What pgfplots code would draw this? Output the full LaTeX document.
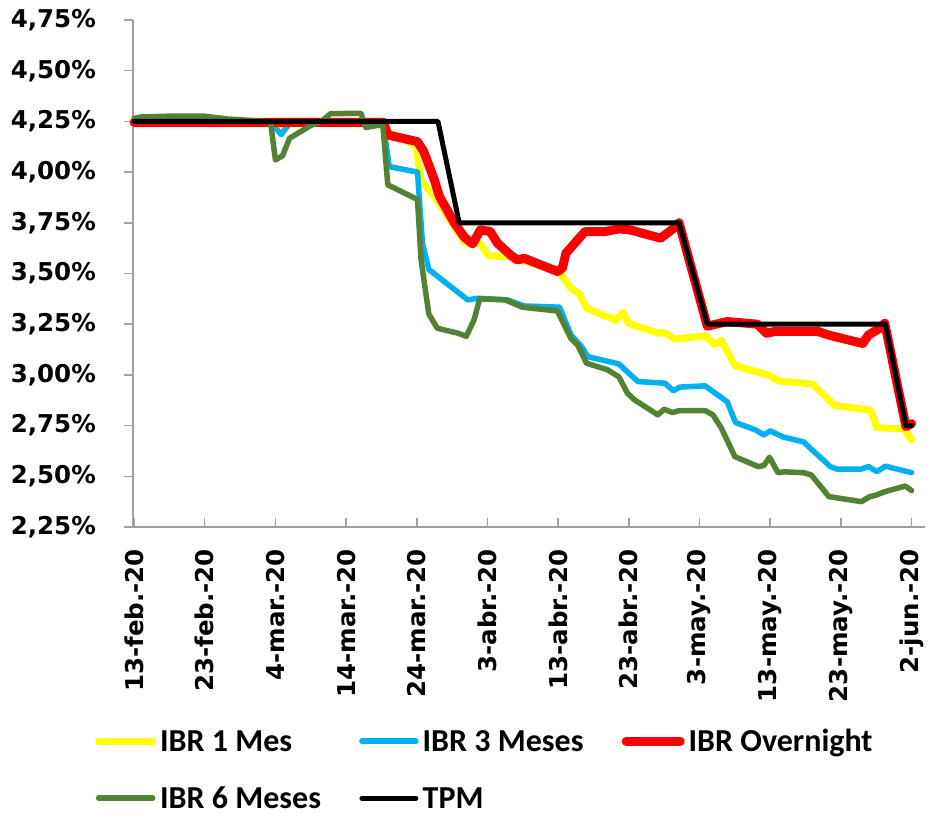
\documentclass[border=0pt]{standalone}
\usepackage{fontspec}
\setmainfont{Carlito}
\newfontfamily\tickfont{DejaVu Sans}
\usepackage{pgfplots}
\pgfplotsset{compat=1.18}

\definecolor{ibryellow}{RGB}{255,255,0}
\definecolor{ibrblue}{RGB}{0,176,240}
\definecolor{ibrred}{RGB}{255,0,0}
\definecolor{ibrgreen}{RGB}{84,130,53}
\definecolor{axgray}{RGB}{160,160,160}

\begin{document}
\begin{tikzpicture}
\useasboundingbox (-133pt,-290pt) rectangle (809pt,527pt);
\begin{axis}[
    at={(0pt,0pt)}, anchor=south west,
    scale only axis, width=792pt, height=507pt,
    xmin=-0.15, xmax=111.9, ymin=2.25, ymax=4.75,
    clip=false,
    axis lines=left,
    axis line style={-, draw=axgray, line width=1.5pt},
    xtick={0,10,...,110},
    xticklabels={13-feb.-20,23-feb.-20,4-mar.-20,14-mar.-20,24-mar.-20,3-abr.-20,
                 13-abr.-20,23-abr.-20,3-may.-20,13-may.-20,23-may.-20,2-jun.-20},
    ytick={2.25,2.5,2.75,3,3.25,3.5,3.75,4,4.25,4.5,4.75},
    yticklabels={{2,25\%},{2,50\%},{2,75\%},{3,00\%},{3,25\%},{3,50\%},
                 {3,75\%},{4,00\%},{4,25\%},{4,50\%},{4,75\%}},
    xtick align=inside, ytick align=outside,
    major tick length=9pt,
    tick style={draw=axgray, line width=1.5pt},
    ticklabel style={font=\tickfont\bfseries\fontsize{24.5}{29}\selectfont},
    x tick label style={rotate=90, anchor=east, inner sep=0pt, inner xsep=22pt},
    y tick label style={anchor=east, inner sep=0pt, inner xsep=20pt, xshift=-8pt},
    legend columns=3,
    legend style={at={(-0.048,-0.4004)}, anchor=north west, draw=none, fill=none,
        inner sep=0pt, column sep=0pt, row sep=29pt, cells={anchor=west},
        nodes={inner sep=0pt, inner xsep=4pt, text height=21pt, text depth=7pt},
        font=\bfseries\fontsize{32}{38}\selectfont},
    legend image code/.code={\draw[#1, line cap=round] (3pt,3pt) -- (57pt,3pt);},
    every axis plot/.append style={line join=round, line cap=round},
]
% IBR 1 Mes
\addplot[ibryellow, line width=7pt] coordinates {
(0,4.25) (19.5,4.25) (20.8,4.23) (22,4.25) (35.2,4.25) (35.5,4.205) (39.9,4.13)
(40.6,3.96) (41.3,3.93) (42.5,3.88) (46.8,3.65) (48.9,3.65) (50.2,3.587) (52.9,3.583)
(59.9,3.515) (61.8,3.428) (63.0,3.40) (64.0,3.329) (68.1,3.27) (69.2,3.308) (69.9,3.255)
(74.1,3.206) (75.1,3.208) (76.5,3.177) (80.8,3.193) (82.1,3.152) (83.1,3.17) (85.0,3.045)
(89.7,3.0) (91.3,2.97) (96.0,2.955) (99.1,2.85) (104.2,2.826) (105.1,2.74) (109.0,2.733)
(110,2.68)};
% IBR 3 Meses
\addplot[ibrblue, line width=5.5pt] coordinates {
(0,4.25) (19.3,4.25) (20.8,4.185) (22.0,4.24) (23,4.25) (35.2,4.25) (36.1,4.027)
(40.1,4.0) (40.8,3.65) (41.7,3.52) (47.2,3.37) (48.6,3.378) (52.8,3.37) (55.2,3.34)
(60.2,3.334) (61.8,3.197) (63.3,3.14) (64.2,3.09) (68.6,3.054) (70.0,3.008) (71.3,2.967)
(75.1,2.959) (76.3,2.922) (77.2,2.94) (80.8,2.946) (83.9,2.868) (85.1,2.765) (87.9,2.729)
(89.1,2.704) (90.0,2.724) (91.9,2.693) (94.7,2.67) (98.5,2.548) (99.4,2.536) (102.9,2.536)
(103.9,2.548) (105.1,2.523) (106.3,2.55) (110,2.518)};
% IBR Overnight
\addplot[ibrred, line width=9pt] coordinates {
(0,4.245) (35.3,4.245) (35.9,4.183) (40.1,4.15) (41.0,4.10) (42.5,3.96) (43.2,3.88)
(45.3,3.75) (46.7,3.68) (47.9,3.646) (49.0,3.715) (50.4,3.707) (51.4,3.65) (53.3,3.59)
(54.2,3.567) (55.2,3.575) (59.9,3.51) (60.6,3.526) (61.1,3.60) (63.8,3.707) (66.7,3.707)
(68.6,3.72) (70.2,3.715) (74.5,3.674) (76.6,3.73) (77.1,3.75) (81.1,3.24) (83.9,3.263)
(88.2,3.25) (89.5,3.205) (90.7,3.215) (96.7,3.215) (98.2,3.197) (103.1,3.155) (103.9,3.197)
(105.5,3.23) (106.2,3.255) (109.2,2.745) (110,2.76)};
% IBR 6 Meses
\addplot[ibrgreen, line width=5.5pt] coordinates {
(0,4.265) (1.0,4.272) (5.3,4.276) (9.9,4.276) (13.2,4.262) (18.5,4.25) (19.3,4.25)
(20.0,4.06) (21.0,4.08) (22.0,4.167) (25.0,4.23) (26.5,4.25) (27.8,4.288) (32.1,4.29)
(32.8,4.22) (34.4,4.23) (35.2,4.23) (35.9,3.937) (40.1,3.865) (40.6,3.57) (41.7,3.30)
(42.9,3.23) (45.8,3.206) (47.0,3.19) (48.1,3.271) (48.9,3.375) (52.5,3.37) (54.9,3.334)
(59.9,3.315) (61.8,3.18) (62.8,3.145) (64.0,3.058) (67.0,3.025) (68.6,2.99) (69.8,2.91)
(70.8,2.877) (74.1,2.803) (75.0,2.831) (76.2,2.814) (77.1,2.824) (80.8,2.824) (81.9,2.803)
(83.1,2.737) (85.0,2.597) (88.3,2.548) (89.1,2.553) (89.9,2.594) (91.1,2.518) (92.0,2.522)
(94.7,2.518) (95.8,2.507) (98.3,2.40) (102.9,2.375) (104.1,2.40) (104.8,2.405) (106.3,2.425)
(109.1,2.452) (110,2.43)};
% TPM
\addplot[black, line width=5pt] coordinates {
(0,4.25) (43,4.25) (46,3.75) (77.1,3.75) (81.1,3.25) (106.3,3.25) (109.2,2.75) (110,2.75)};
\legend{\makebox[195pt][l]{IBR 1 Mes},\makebox[195pt][l]{IBR 3 Meses},
        \makebox[195pt][l]{IBR Overnight},\makebox[195pt][l]{IBR 6 Meses},
        \makebox[195pt][l]{TPM}}
\end{axis}
\end{tikzpicture}
\end{document}
